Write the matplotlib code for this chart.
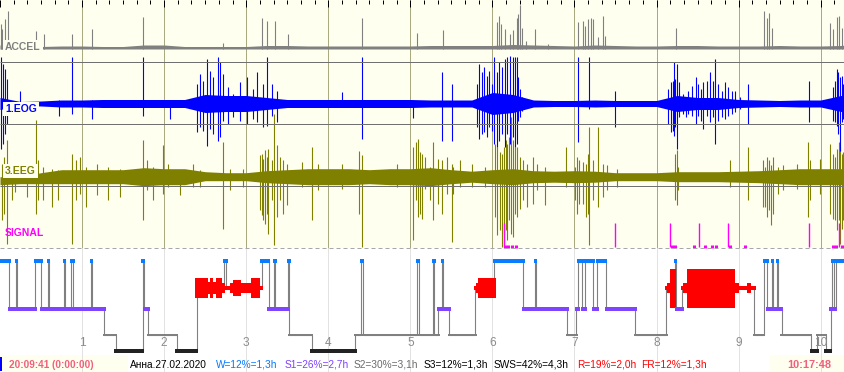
import numpy as np
import matplotlib
matplotlib.use("Agg")
import matplotlib.pyplot as plt
from matplotlib.patches import Rectangle

# ---------------- data ----------------
TOTAL_MIN = 617.8          # recording length 10:17:48 in minutes
start_label = "20:09:41 (0:00:00)"
end_label = "10:17:48"
hour_labels = ["1", "2", "3", "4", "5", "6", "7", "8", "9", "10"]

# envelope sample times (min) and band amplitudes (display units)
env_t = [0, 15, 30, 45, 60, 75, 90, 105, 120, 135, 150, 165, 180, 195, 210, 225, 240, 255,
         270, 285, 300, 315, 330, 345, 360, 375, 390, 405, 420, 435, 450, 465, 480, 495,
         510, 525, 540, 555, 570, 585, 600, 615, 617.8]
accel_env = [4, 2.5, 2.5, 3, 3, 2.5, 2.5, 4, 4, 2.5, 2.5, 2.5, 2.5, 3.5, 3.5, 3, 3, 3, 3, 3,
             3, 3.5, 3.5, 3.5, 3.5, 4.5, 4, 3.5, 3, 4, 3.5, 3, 3, 3.5, 3.5, 3, 3, 3, 3.5, 3,
             3, 3.5, 4]
eog_env = [6, 2, 2.5, 3.5, 3.5, 4, 4, 4, 4, 4, 9, 8, 8, 6, 4, 4, 4, 4, 4, 4, 4, 3.5, 3.5,
           3.5, 11, 9, 3.5, 3, 3, 3.5, 3, 3, 3, 8, 6, 6, 4, 3.5, 3, 3.5, 3.5, 8, 8]
eeg_env_up = [0, 0, 4, 7, 7, 7, 7, 9, 8, 8, 5, 4, 4, 6, 7, 8, 8, 8, 7, 8, 8, 9, 7, 5.5,
              7, 8, 6, 5.5, 6, 5.5, 4, 4, 4, 5, 5, 5, 5.5, 6, 7, 8, 8, 8, 8]
eeg_env_dn = [8, 7, 7, 7, 7, 7, 7, 9, 8, 8, 4, 4, 4, 6, 7, 8, 8, 8, 7, 8, 8, 9, 7, 5.5,
              7, 8, 6, 5.5, 6, 5.5, 4, 4, 4, 5, 5, 5, 5.5, 6, 7, 8, 8, 8, 8]

accel_spk_t = [0.5, 1.7, 3.7, 6.1, 26.3, 32.2, 52.6, 67.3, 104.5, 163.0, 191.5, 195.2, 201.0,
               210.8, 264.4, 305.1, 323.7,
               363.1, 364.6, 366.5, 369.2, 372.9, 374.8, 377.8, 378.9, 379.9, 381.4, 384.6,
               391.1, 400.9,
               422.8, 426.5, 427.7, 429.7, 431.9, 433.8, 437.4, 441.1, 442.3, 494.0,
               558.8, 560.5, 562.4, 564.2, 606.8, 609.2, 611.7, 613.4, 615.4]
accel_spk_h = [25, 20, 30, 38, 18, 15, 15, 20, 32, 6, 31, 28, 28, 15, 31, 16, 19,
               27, 33, 25, 20, 15, 19, 31, 35, 44, 21, 8, 20, 5,
               27, 28, 23, 30, 31, 30, 12, 33, 13, 21,
               38, 31, 36, 21, 26, 20, 32, 33, 21]

eog_spk_t = [0.7, 2.2, 3.7, 5.1, 14.6, 43.1, 52.4, 67.3, 104.8, 124.3,
             144.2, 146.2, 148.6, 151.1, 153.5, 155.9, 159.6, 160.8, 163.3, 166.9,
             170.6, 175.5, 180.4, 185.2, 187.7, 192.5, 195.0, 198.6, 202.3,
             249.8, 264.4, 302.2, 323.4, 330.2,
             348.5, 350.4, 352.2, 354.1, 355.8, 357.7, 359.5, 361.2, 363.1, 365.0,
             366.8, 369.2, 370.9, 372.9, 374.8, 376.5, 377.8, 378.9, 380.2, 381.9,
             422.8, 430.8, 449.6,
             488.6, 490.3, 491.8, 492.8, 493.7, 495.0, 496.6, 499.6, 501.5, 503.2,
             505.7, 508.6, 510.5, 512.5, 514.2, 516.7, 519.1, 521.0, 523.0, 524.7,
             527.6, 530.0, 532.5, 534.9, 537.4, 541.0, 547.1,
             591.7,
             608.8, 610.5, 611.7, 612.9, 614.1, 615.4, 616.5]
eog_spk_up = [47, 40, 35, 25, 13, 4, 47, 4, 47, 4,
              20, 30, 23, 45, 33, 27, 47, 42, 30, 17,
              10, 22, 27, 15, 32, 20, 47, 20, 13,
              12, 47, 4, 32, 20,
              20, 40, 32, 37, 28, 33, 20, 47, 32, 42,
              37, 45, 47, 48, 47, 47, 47, 27, 15, 7,
              47, 47, 13,
              15, 22, 23, 42, 25, 40, 22, 10, 7, 13,
              18, 27, 20, 15, 22, 23, 32, 23, 45, 20,
              13, 22, 17, 13, 13, 7, 20,
              23,
              17, 23, 35, 32, 27, 28, 20]
eog_spk_dn = [45, 40, 30, 20, 2, 12, 10, 15, 12, 15,
              28, 23, 27, 42, 25, 30, 37, 33, 17, 20,
              13, 17, 20, 15, 18, 23, 22, 12, 18,
              3, 35, 14, 37, 37,
              23, 35, 30, 28, 33, 23, 27, 40, 43, 37,
              30, 43, 30, 40, 33, 43, 40, 17, 13, 7,
              38, 5, 23,
              20, 28, 27, 32, 23, 45, 13, 10, 13, 10,
              12, 20, 12, 17, 25, 12, 18, 13, 40, 17,
              13, 15, 12, 10, 8, 5, 20,
              18,
              17, 18, 22, 30, 47, 18, 15]

eeg_spk_t = [1.2, 2.9, 5.3, 8.6, 11.0, 19.5, 26.1, 28.0, 31.7, 37.8,
             42.6, 52.4, 55.6, 58.5, 62.7, 70.7, 79.2, 87.7, 104.8, 107.3,
             112.1, 119.4, 123.0, 131.6, 141.3, 146.2, 163.3, 168.2, 177.9, 190.1,
             191.3, 192.5, 193.7, 195.0, 196.2, 198.6, 200.5, 202.3, 204.7,
             206.7, 210.0, 220.6, 228.3, 232.7, 249.8, 262.7, 264.4, 290.0, 302.2,
             304.1, 305.8, 307.1, 308.7,
             310.7, 314.4, 316.3, 320.4, 322.9, 326.6, 330.2, 331.4, 336.3, 344.9,
             354.6, 361.9, 363.6, 365.6, 366.8, 368.5, 369.9, 370.9, 372.3, 373.6,
             374.8, 376.5, 377.8, 380.2, 382.6, 385.1, 389.9, 392.4, 398.4, 413.8,
             420.4, 421.6, 423.5, 426.5, 428.2, 430.1, 430.8, 433.8, 437.4, 440.6,
             443.5, 450.9, 493.5, 494.7, 495.9, 533.7, 547.1, 558.1, 559.3, 560.5,
             562.4, 563.7, 565.4, 569.0, 572.7, 582.5, 591.0, 592.2, 599.5, 606.8,
             609.2, 610.5, 611.7, 613.2, 614.1, 615.4, 616.5]
eeg_spk_up = [13, 20, 37, 3, 0, 0, 57, 17, 10, 8,
              7, 23, 17, 20, 10, 13, 10, 8, 37, 17,
              10, 32, 13, 7, 13, 7, 35, 8, 8, 22,
              23, 18, 27, 20, 28, 17, 63, 32, 20,
              17, 13, 15, 30, 13, 13, 26, 22, 13, 30,
              35, 38, 25, 23,
              20, 10, 35, 18, 17, 20, 13, 10, 17, 13,
              10, 33, 30, 25, 23, 30, 37, 33, 40, 60,
              37, 30, 30, 20, 17, 13, 20, 13, 10, 30,
              10, 20, 17, 15, 13, 23, 50, 17, 50, 13,
              12, 8, 23, 27, 10, 17, 30, 17, 10, 20,
              17, 12, 20, 10, 12, 13, 35, 17, 18, 33,
              23, 20, 28, 35, 30, 23, 25]
eeg_spk_dn = [43, 37, 67, 23, 15, 20, 37, 23, 23, 30,
              23, 67, 23, 17, 30, 18, 23, 20, 43, 13,
              23, 17, 10, 18, 10, 10, 52, 13, 10, 33,
              38, 43, 47, 37, 57, 23, 68, 40, 23,
              37, 28, 10, 43, 13, 12, 37, 70, 10, 63,
              23, 40, 37, 42,
              12, 23, 43, 27, 37, 17, 65, 17, 10, 10,
              10, 40, 58, 53, 70, 57, 53, 63, 43, 57,
              60, 37, 40, 32, 23, 30, 27, 13, 28, 10,
              23, 37, 27, 27, 40, 37, 68, 23, 30, 20,
              13, 10, 23, 28, 13, 10, 23, 30, 30, 40,
              33, 48, 37, 17, 13, 12, 40, 23, 17, 37,
              42, 43, 53, 43, 67, 52, 43]

sig_spk_t = [368.7, 369.2, 371.4, 374.3, 377.2, 449.6, 489.8, 491.3, 493.5, 507.4, 511.3,
             515.4, 520.5, 523.5, 532.5, 533.7, 544.7, 591.7, 609.0, 611.2, 613.4, 615.6]
sig_spk_h = [24, 2, 2, 2, 2, 24, 24, 2, 2, 2, 24, 2, 2, 2, 24, 2, 2, 24, 2, 2, 24, 2]

# hypnogram: stage onsets (min) and stages
hyp_onset = [0, 6.8, 11.9, 12.4, 25.8, 30.2, 35.3, 35.8, 47.0, 47.5, 52.1, 53.6, 66.7, 67.3,
             76.3, 84.6, 104.3, 105.3, 108.4, 129.2, 143.8, 164.0, 165.4, 191.3, 196.4, 200.3,
             201.4, 210.9, 211.5, 227.9, 259.8, 264.1, 265.2, 305.1, 306.3, 316.8, 317.5,
             320.4, 323.4, 323.9, 328.5, 347.5, 361.2, 382.6, 391.4, 391.9, 414.8, 421.3,
             422.8, 425.7, 427.9, 433.8, 436.7, 443.0, 464.5, 487.1, 493.7, 494.2, 498.8,
             551.5, 558.6, 561.0, 564.4, 565.1, 568.1, 568.8, 571.5, 592.9, 597.5, 603.7,
             607.3, 608.3, 609.7, 611.2]
hyp_stage = ['W', 'S1', 'W', 'S1', 'W', 'S1', 'W', 'S1', 'W', 'S1', 'W', 'S1', 'W', 'S1',
             'S2', 'S3', 'W', 'S1', 'S2', 'S3', 'R', 'W', 'R', 'W', 'S1', 'W',
             'S1', 'W', 'S2', 'S3', 'S2', 'W', 'S2', 'W', 'S2', 'W', 'S2',
             'S1', 'W', 'S1', 'S2', 'R', 'W', 'S1', 'W', 'S1', 'S2', 'S1',
             'W', 'S1', 'W', 'S1', 'W', 'S1', 'S2', 'R', 'W', 'S1', 'R',
             'S2', 'W', 'S1', 'W', 'S1', 'W', 'S1', 'S2', 'S3', 'S2', 'S3',
             'S1', 'W', 'S1', 'W']

# REM intensity blocks
rem_t0 = [142.6, 152.1, 153.5, 155.7, 157.9, 162.3, 164.5, 167.8, 170.3, 176.2, 183.5, 190.1,
          346.5, 348.0, 349.5, 486.2, 487.6, 489.8,
          497.7, 499.3, 502.5, 537.4, 540.3, 545.9, 548.8]
rem_t1 = [152.1, 153.5, 155.7, 157.9, 162.3, 164.5, 167.8, 170.3, 176.2, 183.5, 190.1, 192.3,
          348.0, 349.5, 362.6, 487.6, 489.8, 494.2,
          499.3, 502.5, 537.4, 540.3, 545.9, 548.8, 552.5]
rem_amp = [9.7, 6, 9.7, 6, 9.7, 5, 2, 5, 8, 5, 9.7, 2,
           2, 5, 9.7, 2, 5, 19.5,
           2, 5, 19.5, 5, 2, 5, 2]

stat_texts = ["Анна.27.02.2020", "W=12%=1,3h", "S1=26%=2,7h", "S2=30%=3,1h",
              "S3=12%=1,3h", "SWS=42%=4,3h", "R=19%=2,0h", "FR=12%=1,3h"]

# ---------------- style / layout ----------------
W_PX, H_PX = 845, 372
PXM = TOTAL_MIN / W_PX          # minutes per pixel
LW1 = 0.72                      # 1 px in points
CREAM = '#FFFFF0'
GRAY = '#808080'
BLUE = '#0000FF'
OLIVE = '#808000'
MAGENTA = '#FF00FF'
FONT = 'Liberation Sans'

ACC_BASE, EOG_BASE, EEG_BASE, SIG_BASE = 49.0, 103.5, 176.7, 246.5
LEVEL = {'W': 260.8, 'R': 288.0, 'S1': 309.0, 'S2': 334.8, 'S3': 350.8}
BAR = {'W': ('#0A7CFF', 4.0), 'S1': ('#7F44FF', 4.0), 'S2': (GRAY, 2.0), 'S3': ('#222222', 4.0)}

fig = plt.figure(figsize=(W_PX / 100, H_PX / 100), dpi=100)
ax = fig.add_axes([0, 0, 1, 1])
ax.set_xlim(0, TOTAL_MIN)
ax.set_ylim(H_PX, 0)
ax.axis('off')

# backgrounds
ax.add_patch(Rectangle((0, 0), TOTAL_MIN, 247.5, color=CREAM, lw=0, zorder=0))

hours = np.arange(1, len(hour_labels) + 1) * 60.0
ax.vlines(hours, 0, 247.5, color='#AAAA80', lw=LW1, zorder=1)
ax.vlines(hours, 247.5, H_PX, color='#E2E2E2', lw=LW1, zorder=1)

ticks = np.arange(0, TOTAL_MIN, 10.0)
is_hour = np.isclose(ticks % 60, 0)
ax.vlines(ticks[~is_hour], 0, 3.5, color='black', lw=LW1, zorder=6)
ax.vlines(ticks[is_hour], 0, 6.5, color='black', lw=LW1, zorder=6)

# traces
et = np.array(env_t)
ax.fill_between(et, ACC_BASE - np.array(accel_env), ACC_BASE, color=GRAY, lw=0, zorder=3)
ax.vlines(accel_spk_t, ACC_BASE - np.array(accel_spk_h), ACC_BASE, color=GRAY, lw=0.8, zorder=3)

ax.fill_between(et, EEG_BASE - np.array(eeg_env_up), EEG_BASE + np.array(eeg_env_dn),
                color=OLIVE, lw=0, zorder=2)
ax.vlines(eeg_spk_t, EEG_BASE - np.array(eeg_spk_up), EEG_BASE + np.array(eeg_spk_dn),
          color=OLIVE, lw=0.8, zorder=2)

ax.fill_between(et, EOG_BASE - np.array(eog_env), EOG_BASE + np.array(eog_env),
                color=BLUE, lw=0, zorder=3)
ax.vlines(eog_spk_t, EOG_BASE - np.array(eog_spk_up), EOG_BASE + np.array(eog_spk_dn),
          color=BLUE, lw=0.8, zorder=3)

sh = np.array(sig_spk_h)
st = np.array(sig_spk_t)
ax.vlines(st[sh > 5], SIG_BASE - sh[sh > 5], SIG_BASE, color=MAGENTA, lw=1.0, zorder=3)
ax.vlines(st[sh <= 5], SIG_BASE - sh[sh <= 5], SIG_BASE + 1, color=MAGENTA, lw=2.2, zorder=3)

# channel separators
ax.hlines([61.5, 123.5, 185.5], 0, TOTAL_MIN, color='#707070', lw=LW1, zorder=5)
ax.hlines(247.5, 0, TOTAL_MIN, color='#A8A8A8', lw=LW1, linestyles=[(0, (4, 3))], zorder=5)

# channel labels
lab_kw = dict(fontsize=7.5, fontweight='bold', family=FONT, va='center', ha='left', zorder=8)
box = dict(fc=CREAM, ec='none', pad=1.6)
ax.text(5 * PXM, 47, 'ACCEL', color=GRAY, bbox=box, **lab_kw)
ax.text(5 * PXM, 109, '1.EOG', color=BLUE, bbox=box, **lab_kw)
ax.text(5 * PXM, 171, '3.EEG', color=OLIVE, bbox=box, **lab_kw)
ax.text(5 * PXM, 233, 'SIGNAL', color=MAGENTA, **lab_kw)

# hypnogram
on = np.array(hyp_onset)
en = np.append(on[1:], TOTAL_MIN)
ys = np.array([LEVEL[s] for s in hyp_stage])
ax.hlines(ys, on, en, color=GRAY, lw=LW1 * 1.1, zorder=4)
ax.vlines(on[1:], ys[:-1], ys[1:], color=GRAY, lw=LW1 * 1.1, zorder=4)

r0, r1, ra = np.array(rem_t0), np.array(rem_t1), np.array(rem_amp)
ax.bar(r0, 2 * ra, width=r1 - r0, bottom=LEVEL['R'] - ra, align='edge',
       color='#FF0000', lw=0, zorder=4.5)

pad = 1.0
stg = np.array(hyp_stage)
for s, (c, w) in BAR.items():
    m = stg == s
    ax.hlines(ys[m], on[m] - pad, en[m] + pad, color=c, lw=w * LW1, zorder=5)

for h, lab in zip(hours, hour_labels):
    ax.text(h, 343.5, lab, ha='center', va='center', color='#8C8C8C', fontsize=8.6,
            family=FONT, zorder=6)

# status bar
ax.add_patch(Rectangle((0, 355), 128 * PXM, 17, color=CREAM, lw=0, zorder=0.5))
ax.add_patch(Rectangle((770 * PXM, 355), 75 * PXM, 17, color=CREAM, lw=0, zorder=0.5))
ax.add_patch(Rectangle((0, 357), 1.6 * PXM, 14, color=BLUE, lw=0, zorder=7))
PINK = '#F0607C'
ax.text(9 * PXM, 367.5, start_label, color=PINK, fontsize=7.2, fontweight='bold',
        family=FONT, va='baseline', ha='left', zorder=8)
ax.text(809 * PXM, 367.5, end_label, color=PINK, fontsize=7.9, fontweight='bold',
        family=FONT, va='baseline', ha='center', zorder=8)

stat_colors = ['black', '#0078FF', '#7F3FFF', '#6A6A6A', 'black', 'black', '#FF0000', '#FF0000']
stat_x_px = [130, 216, 285, 354, 424, 494, 576.7, 640.7]
for t, c, xp in zip(stat_texts, stat_colors, stat_x_px):
    ax.text(xp * PXM, 367.5, t, color=c, fontsize=7.3, family=FONT, va='baseline',
            ha='left', zorder=8)

fig.savefig('out.png', dpi=100, facecolor='white')
